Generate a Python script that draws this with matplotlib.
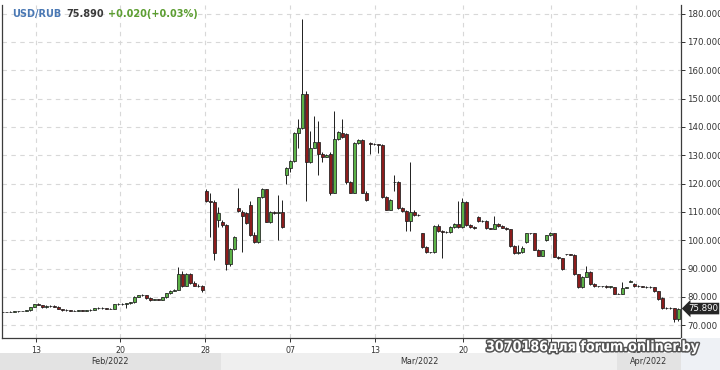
import numpy as np
import matplotlib.pyplot as plt
import matplotlib.patheffects as pe
from matplotlib.patches import Rectangle

# ---- data (USD/RUB candles) ----
opens = [74.6, 74.7, 74.7, 74.8, 74.9, 75.0, 75.1, 75.3, 76.4, 77.4,
         77.1, 76.4, 76.9, 76.7, 76.6, 75.6, 75.4, 75.3, 75.2, 75.1,
         75.3, 75.2, 75.3, 75.5, 76.1, 76.2, 76.0, 75.9, 75.7, 77.4,
         77.5, 77.4, 77.8, 78.1, 80.0, 80.5, 80.6, 79.6, 79.0, 79.1,
         79.0, 79.8, 81.3, 82.2, 82.5, 88.0, 84.0, 88.2, 85.0, 84.0,
         83.8, 117.5, 114.0, 113.6, 107.0, 106.3, 105.2, 91.5, 97.0, 111.4,
         110.0, 109.6, 112.6, 101.8, 99.3, 115.1, 117.9, 106.6, 110.0, 109.6,
         110.0, 123.0, 125.6, 127.9, 138.0, 139.5, 151.7, 127.5, 132.7, 134.6,
         130.6, 129.5, 130.6, 116.8, 135.8, 138.0, 137.6, 120.6, 116.8, 134.2,
         135.4, 116.8, 134.2, 134.0, 133.8, 133.5, 115.2, 110.8, 120.7, 120.5,
         111.4, 110.2, 106.8, 110.0, 108.8, 102.4, 97.6, 95.8, 95.8, 105.0,
         103.2, 103.0, 102.9, 104.7, 105.8, 104.5, 113.4, 105.3, 104.6, 108.1,
         106.7, 106.8, 104.2, 104.0, 105.9, 105.0, 104.4, 103.8, 97.9, 95.5,
         95.8, 99.3, 102.4, 102.4, 96.6, 94.6, 100.0, 101.8, 102.4, 94.2,
         93.6, 95.0, 95.0, 94.9, 88.0, 83.4, 87.1, 88.7, 84.5, 83.8,
         83.7, 83.8, 83.6, 83.4, 81.2, 81.2, 83.3, 85.3, 84.7, 83.8,
         83.7, 83.6, 83.5, 83.4, 82.0, 79.6, 76.0, 76.1, 76.0, 72.3]
highs = [74.8, 74.8, 74.9, 75.0, 75.1, 75.2, 75.4, 76.5, 77.6, 77.8,
         77.3, 77.2, 77.3, 77.0, 76.7, 75.8, 75.6, 75.5, 75.4, 75.4,
         75.5, 75.4, 75.6, 76.2, 76.4, 76.3, 76.2, 76.0, 77.6, 77.7,
         77.7, 78.0, 78.3, 80.2, 80.8, 81.0, 80.8, 79.8, 79.3, 79.3,
         80.0, 81.4, 82.3, 82.8, 90.5, 89.0, 88.6, 88.5, 85.5, 84.4,
         84.2, 118.0, 116.5, 114.2, 111.6, 107.0, 105.6, 97.3, 101.6, 118.3,
         110.5, 110.0, 114.0, 102.8, 115.3, 118.3, 118.2, 110.2, 110.4, 116.0,
         114.3, 125.8, 128.2, 138.2, 142.9, 178.0, 152.5, 138.7, 144.0, 142.2,
         131.0, 130.5, 131.0, 145.7, 138.6, 142.6, 138.0, 121.0, 134.5, 135.6,
         135.8, 117.2, 134.5, 134.3, 134.0, 133.8, 115.5, 114.6, 123.0, 121.0,
         111.8, 110.5, 127.5, 110.5, 109.4, 102.6, 97.8, 96.0, 105.2, 105.8,
         103.5, 103.3, 104.9, 106.0, 114.0, 115.0, 113.8, 105.6, 104.9, 108.4,
         107.0, 107.0, 104.4, 108.7, 106.2, 105.2, 104.6, 104.0, 98.2, 98.2,
         97.8, 102.6, 102.7, 102.6, 96.8, 96.6, 102.0, 102.9, 102.6, 94.4,
         93.8, 95.2, 95.2, 95.1, 88.2, 87.3, 90.8, 89.0, 84.8, 84.0,
         84.0, 84.1, 83.9, 83.6, 81.4, 85.3, 83.6, 85.8, 85.0, 84.1,
         84.0, 83.9, 83.8, 83.6, 82.2, 79.8, 76.3, 76.3, 76.2, 76.2]
lows = [74.5, 74.6, 74.6, 74.7, 74.8, 74.9, 75.0, 75.2, 76.3, 77.0,
        76.2, 76.2, 76.5, 76.3, 75.6, 75.2, 75.1, 75.0, 74.9, 75.0,
        75.1, 75.0, 75.2, 75.4, 75.9, 75.9, 75.8, 75.6, 75.6, 77.2,
        77.3, 76.0, 77.6, 78.0, 79.8, 80.2, 79.4, 78.7, 78.8, 78.8,
        78.9, 79.7, 81.1, 82.0, 82.3, 83.5, 83.8, 84.6, 83.7, 83.4,
        81.8, 113.6, 101.0, 93.0, 104.6, 104.8, 89.4, 91.0, 96.5, 110.0,
        95.8, 105.8, 101.5, 99.0, 99.0, 114.8, 106.3, 106.2, 109.2, 100.0,
        104.3, 119.7, 124.2, 127.6, 132.7, 139.2, 114.0, 127.2, 132.4, 122.9,
        127.5, 129.2, 115.8, 116.5, 135.5, 136.0, 120.0, 116.5, 116.6, 133.8,
        116.5, 114.0, 130.6, 133.5, 130.8, 115.0, 110.5, 110.5, 117.5, 111.0,
        109.9, 103.4, 103.4, 108.5, 108.6, 97.4, 95.6, 95.5, 95.6, 102.8,
        93.7, 102.7, 102.7, 104.4, 104.2, 104.2, 105.0, 104.4, 104.0, 106.5,
        106.5, 104.0, 103.8, 103.8, 104.8, 104.2, 103.6, 97.6, 95.2, 95.3,
        95.6, 99.0, 102.2, 96.4, 94.4, 94.3, 99.8, 101.6, 94.0, 93.4,
        89.6, 94.8, 94.8, 87.8, 83.2, 83.2, 86.9, 84.3, 83.5, 83.4,
        83.4, 83.3, 83.3, 81.0, 81.0, 81.0, 83.1, 85.1, 83.6, 83.5,
        83.4, 83.3, 83.2, 81.8, 79.0, 75.8, 75.8, 75.8, 71.2, 71.5]
closes = [74.7, 74.7, 74.8, 74.9, 75.0, 75.1, 75.3, 76.4, 77.4, 77.1,
          76.4, 76.9, 76.7, 76.6, 75.6, 75.4, 75.3, 75.2, 75.1, 75.3,
          75.2, 75.3, 75.5, 76.1, 76.2, 76.0, 75.9, 75.7, 77.4, 77.5,
          77.4, 77.8, 78.1, 80.0, 80.5, 80.6, 79.6, 79.0, 79.1, 79.0,
          79.8, 81.3, 82.2, 82.5, 88.0, 84.0, 88.2, 85.0, 84.0, 83.8,
          82.6, 114.0, 113.6, 95.4, 109.5, 105.2, 91.5, 97.0, 101.3, 110.4,
          108.6, 106.2, 101.8, 99.3, 115.1, 117.9, 106.6, 110.0, 109.6, 110.0,
          104.6, 125.6, 127.9, 138.0, 139.5, 151.7, 127.5, 132.7, 134.6, 130.6,
          129.5, 130.2, 116.8, 135.8, 138.2, 136.5, 120.6, 116.8, 134.2, 135.3,
          116.8, 114.3, 134.0, 133.8, 133.5, 115.2, 110.8, 114.3, 120.5, 111.4,
          110.2, 106.8, 110.0, 108.8, 109.0, 97.6, 95.8, 95.8, 105.0, 103.2,
          103.0, 102.9, 104.7, 105.8, 104.5, 113.4, 105.3, 104.6, 104.3, 106.7,
          106.8, 104.2, 104.0, 105.9, 105.0, 104.4, 103.8, 97.9, 95.5, 95.8,
          97.4, 102.4, 102.4, 96.6, 94.6, 96.4, 101.8, 102.4, 94.2, 93.6,
          89.8, 95.0, 94.9, 88.0, 83.4, 87.1, 88.7, 84.5, 83.8, 83.7,
          83.8, 83.6, 83.7, 81.2, 81.2, 83.3, 83.4, 85.6, 83.8, 83.7,
          83.6, 83.5, 83.4, 82.0, 79.2, 76.0, 76.1, 76.0, 72.3, 75.89]

# day ticks (candle index) and month bands
tick_pos = [8.5, 29.6, 50.75, 72.0, 93.25, 115.25, 137.25, 158.5]
tick_labels = ['13', '20', '28', '07', '13', '20', '27', '03']
months = ['Feb/2022', 'Mar/2022', 'Apr/2022']
month_edges = [-0.5, 54.75, 153.75, 169.75]
y_ticks = [70, 80, 90, 100, 110, 120, 130, 140, 150, 160, 170, 180]

GREEN = '#5cb247'
RED = '#8c1c1c'
EDGE = '#1e1e1e'

W, H = 720, 370
fig = plt.figure(figsize=(W / 100, H / 100), dpi=100)
fig.patch.set_facecolor('white')

ax = fig.add_axes([2 / W, 1 - 338 / H, 679 / W, 333 / H])
ax.set_facecolor('white')

x = np.arange(len(closes))
o = np.array(opens)
c = np.array(closes)
cols = np.where(c >= o, GREEN, RED)

ax.vlines(x, lows, highs, color=EDGE, lw=0.7, zorder=2)
ax.bar(x, np.abs(c - o), bottom=np.minimum(o, c), width=0.75,
       color=cols, edgecolor=EDGE, linewidth=0.55, zorder=3)

ax.set_xlim(0, 169.75)
ax.set_ylim(65.5, 183.0)

# grid
ax.set_yticks(y_ticks)
ax.set_yticklabels([f'{v:.3f}' for v in y_ticks])
ax.set_xticks(tick_pos)
ax.set_xticklabels(tick_labels)
ax.grid(True, color='#d8d8d8', lw=0.8, linestyle=(0, (4, 4)), zorder=0)
ax.yaxis.tick_right()
ax.tick_params(axis='y', labelsize=6.2, colors='#333333', length=3, width=0.7, pad=1.5)
ax.tick_params(axis='x', labelsize=6.3, colors='#333333', length=3, width=0.7, pad=3)
for lab in ax.get_xticklabels():
    lab.set_fontstretch('condensed')
for sp in ax.spines.values():
    sp.set_color('#3c3c3c')
    sp.set_linewidth(0.9)
ax.spines['top'].set_visible(False)

# last price tag
ax.annotate(f'{closes[-1]:.3f}', xy=(1, closes[-1]), xycoords=('axes fraction', 'data'),
            xytext=(5, 0), textcoords='offset points', ha='left', va='center',
            color='white', fontsize=6.2, annotation_clip=False,
            bbox=dict(boxstyle='larrow,pad=0.15', fc='#262626', ec='none'), zorder=6)

# month band at the bottom
band = fig.add_axes([2 / W, 0, 679 / W, 17 / H], sharex=ax)
band.set_ylim(0, 1)
band_cols = ['#e3e3e3', '#efefef', '#e3e3e3']
for k, name in enumerate(months):
    band.axvspan(month_edges[k], month_edges[k + 1], color=band_cols[k], lw=0)
    band.text((month_edges[k] + month_edges[k + 1]) / 2, 0.5, name, ha='center', va='center',
              fontsize=6.5, color='#333333', fontstretch='condensed')
band.axis('off')
band.set_xlim(0, 169.75)
fig.patches.append(Rectangle((0, 0), 2 / W, 17 / H, transform=fig.transFigure,
                             color=band_cols[0], lw=0, zorder=0))
fig.patches.append(Rectangle((681 / W, 0), 39 / W, 32 / H, transform=fig.transFigure,
                             color='#eef1f5', lw=0, zorder=0))

# header
hy = 1 - 14 / H
fig.text(12 / W, hy, 'USD/RUB', color='#4a78b4', fontsize=7, fontweight='bold', va='center')
fig.text(66 / W, hy, f'{closes[-1]:.3f}', color='#3a3a3a', fontsize=7, fontweight='bold', va='center')
fig.text(108 / W, hy, '+0.020(+0.03%)', color='#5c9e31', fontsize=7, fontweight='bold', va='center')

# watermark
fig.text(486 / W, 1 - 347 / H, '3070186для forum.onliner.by', color='white', fontsize=10.2,
         fontweight='bold', fontstretch='condensed', va='center', ha='left',
         path_effects=[pe.withStroke(linewidth=2.2, foreground='#555555')], zorder=10)

fig.savefig('out.png', dpi=100, facecolor='white')
